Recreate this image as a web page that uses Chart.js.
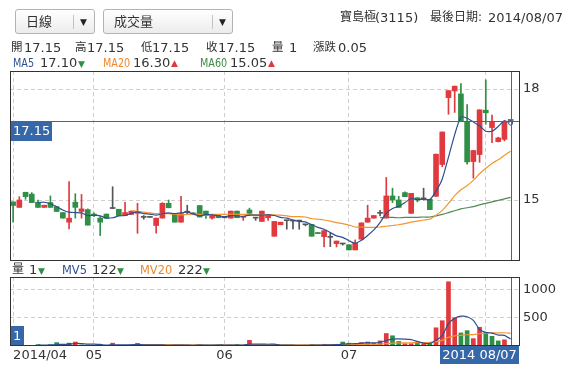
<!DOCTYPE html>
<html><head><meta charset="utf-8">
<script src="https://cdn.jsdelivr.net/npm/chart.js@4.4.1/dist/chart.umd.min.js"></script>
<style>
html,body{margin:0;padding:0;background:#fff;}
body{width:571px;height:376px;position:relative;overflow:hidden;font-family:"DejaVu Sans","Noto Sans CJK TC",sans-serif;font-size:13px;color:#333;}
.abs{position:absolute;white-space:nowrap;line-height:15px;z-index:2;}
.cj{font-size:11.5px;}
.tc{font-size:12px;}
.lbl{font-size:13px;transform:scaleX(0.74);transform-origin:0 50%;}
.lbv{font-size:13px;transform:scaleX(0.88);transform-origin:0 50%;}
.sel{position:absolute;top:9px;height:23px;border:1px solid #b3b3b3;border-radius:3px;background:linear-gradient(#fff,#ececec);z-index:2;}
.sel .t{position:absolute;left:10px;top:4px;line-height:15px;}
.sel .sep{position:absolute;top:5px;width:1px;height:14px;background:#c4c4c4;}
.sel .arr{position:absolute;top:6px;font-size:9px;line-height:12px;color:#222;}
canvas{position:absolute;left:0;z-index:1;}
.up{color:#e0393e;font-size:9px;}
.dn{color:#2f8f46;font-size:9px;}
.b{color:#2e4f8f;} .o{color:#f0882a;} .g{color:#3f8a46;}
</style></head>
<body>
<div class="sel" style="left:15px;width:78px"><span class="t">日線</span><span class="sep" style="left:57px"></span><span class="arr" style="left:64px">▼</span></div>
<div class="sel" style="left:103px;width:128px"><span class="t">成交量</span><span class="sep" style="left:108px"></span><span class="arr" style="left:115px">▼</span></div>
<div class="abs tc" style="left:340px;top:10px">寶島極</div>
<div class="abs" style="left:375px;top:10px">(3115)</div>
<div class="abs tc" style="left:430px;top:10px">最後日期:</div>
<div class="abs" style="left:488px;top:10px">2014/08/07</div>

<div class="abs cj" style="left:11px;top:40px">開</div><div class="abs" style="left:24px;top:40px">17.15</div>
<div class="abs cj" style="left:75px;top:40px">高</div><div class="abs" style="left:87px;top:40px">17.15</div>
<div class="abs cj" style="left:141px;top:40px">低</div><div class="abs" style="left:152px;top:40px">17.15</div>
<div class="abs cj" style="left:206px;top:40px">收</div><div class="abs" style="left:218px;top:40px">17.15</div>
<div class="abs cj" style="left:272px;top:40px">量</div><div class="abs" style="left:289px;top:40px">1</div>
<div class="abs cj" style="left:313px;top:40px">漲跌</div><div class="abs" style="left:338px;top:40px">0.05</div>

<div class="abs lbl b" style="left:13px;top:55px">MA5</div><div class="abs" style="left:40px;top:55px">17.10</div><div class="abs dn" style="left:78px;top:57px">▼</div>
<div class="abs lbl o" style="left:103px;top:55px">MA20</div><div class="abs" style="left:133px;top:55px">16.30</div><div class="abs up" style="left:171px;top:56px">▲</div>
<div class="abs lbl g" style="left:200px;top:55px">MA60</div><div class="abs" style="left:230px;top:55px">15.05</div><div class="abs up" style="left:268px;top:56px">▲</div>

<div class="abs tc" style="left:12px;top:262px">量</div><div class="abs" style="left:29px;top:262px">1</div><div class="abs dn" style="left:38px;top:264px">▼</div>
<div class="abs lbv b" style="left:62px;top:262px">MV5</div><div class="abs" style="left:92px;top:262px">122</div><div class="abs dn" style="left:117px;top:264px">▼</div>
<div class="abs lbv o" style="left:140px;top:262px">MV20</div><div class="abs" style="left:178px;top:262px">222</div><div class="abs dn" style="left:203px;top:264px">▼</div>

<canvas id="price" width="571" height="262" style="top:0;width:571px;height:262px"></canvas>
<canvas id="vol" width="571" height="114" style="top:262px;width:571px;height:114px"></canvas>

<script>
const dates = ['2014/04/14','2014/04/15','2014/04/16','2014/04/17','2014/04/18','2014/04/21','2014/04/22','2014/04/23','2014/04/24','2014/04/25','2014/04/28','2014/04/29','2014/04/30',
'2014/05/02','2014/05/05','2014/05/06','2014/05/07','2014/05/08','2014/05/09','2014/05/12','2014/05/13','2014/05/14','2014/05/15','2014/05/16','2014/05/19','2014/05/20','2014/05/21','2014/05/22','2014/05/23','2014/05/26','2014/05/27','2014/05/28','2014/05/29','2014/05/30',
'2014/06/03','2014/06/04','2014/06/05','2014/06/06','2014/06/09','2014/06/10','2014/06/11','2014/06/12','2014/06/13','2014/06/16','2014/06/17','2014/06/18','2014/06/19','2014/06/20','2014/06/23','2014/06/24','2014/06/25','2014/06/26','2014/06/27','2014/06/30',
'2014/07/01','2014/07/02','2014/07/03','2014/07/04','2014/07/07','2014/07/08','2014/07/09','2014/07/10','2014/07/11','2014/07/14','2014/07/15','2014/07/16','2014/07/17','2014/07/18','2014/07/21','2014/07/22','2014/07/24','2014/07/25','2014/07/28','2014/07/29','2014/07/30','2014/07/31',
'2014/08/01','2014/08/04','2014/08/05','2014/08/06','2014/08/07'];

const open = [14.95,14.80,15.21,15.16,14.94,14.80,14.93,14.82,14.66,14.40,
14.94,14.69,14.74,14.62,14.51,14.62,14.77,14.75,14.58,14.61,
14.64,14.53,14.53,14.31,14.51,14.91,14.60,14.40,14.67,14.62,
14.85,14.70,14.51,14.61,14.52,14.51,14.70,14.53,14.73,14.51,
14.42,14.52,14.02,14.33,14.44,14.43,14.43,14.33,14.34,14.12,
14.01,13.99,13.82,13.81,13.79,13.65,13.94,14.40,14.51,14.64,
14.51,15.11,15.00,15.20,14.64,15.06,15.03,15.02,15.10,15.96,
17.77,17.95,17.87,17.13,16.04,16.23,17.43,16.96,16.58,16.64,
17.15];
const high = [14.95,15.09,15.21,15.20,15.00,14.86,15.11,14.82,14.66,15.50,
15.17,15.15,14.76,14.65,14.55,14.62,15.36,14.75,14.94,14.70,
14.91,14.58,14.53,14.51,14.93,15.00,14.60,15.10,14.86,14.66,
14.85,14.70,14.58,14.61,14.52,14.70,14.70,14.56,14.78,14.51,
14.70,14.61,14.42,14.40,14.44,14.43,14.43,14.33,14.34,14.12,
14.17,14.10,13.89,13.81,13.79,13.92,14.38,14.86,14.58,14.72,
15.61,15.32,15.10,15.22,15.18,15.06,15.32,15.02,16.24,16.84,
17.96,18.08,18.15,17.58,16.34,17.44,18.25,17.30,16.70,17.15,
17.15];
const low = [14.40,14.80,15.02,14.93,14.80,14.80,14.80,14.69,14.51,14.22,
14.51,14.51,14.32,14.55,14.04,14.51,14.77,14.58,14.58,14.61,
14.10,14.48,14.53,14.10,14.51,14.79,14.40,14.40,14.62,14.60,
14.54,14.50,14.48,14.52,14.52,14.51,14.52,14.45,14.58,14.45,
14.42,14.45,14.02,14.33,14.21,14.22,14.21,14.30,14.02,14.09,
13.73,13.74,13.73,13.78,13.65,13.65,13.94,14.40,14.51,14.57,
14.51,14.93,14.80,15.09,14.64,14.95,15.00,14.74,15.10,15.90,
17.32,17.37,17.14,15.97,15.59,16.02,17.05,16.55,16.57,16.60,
17.15];
const close = [14.85,15.00,15.09,14.93,14.80,14.86,14.80,14.69,14.51,14.51,
14.80,14.76,14.32,14.58,14.40,14.51,14.77,14.58,14.66,14.70,
14.69,14.53,14.53,14.51,14.91,14.79,14.40,14.63,14.67,14.62,
14.54,14.58,14.58,14.52,14.52,14.70,14.52,14.56,14.64,14.51,
14.70,14.61,14.42,14.40,14.44,14.43,14.43,14.33,14.02,14.09,
14.17,13.99,13.89,13.81,13.65,13.83,14.38,14.51,14.58,14.64,
15.11,15.00,14.80,15.09,15.18,15.00,15.03,14.74,16.24,16.84,
17.96,18.08,17.14,16.03,16.34,17.44,17.36,17.11,16.68,17.10,
17.15];
const volume = [20,15,10,12,25,10,25,60,15,50,
70,20,15,10,20,10,50,15,10,20,
45,10,10,20,15,10,15,20,10,10,
30,15,10,25,10,15,30,10,100,10,
20,15,25,10,10,10,10,15,30,15,
30,15,30,70,50,40,60,70,50,90,
220,180,80,40,40,60,40,40,320,445,
1130,495,230,270,130,330,240,170,90,109,
1];
const ma5 = [null,null,null,null,14.93,14.94,14.90,14.82,14.73,14.67,
14.66,14.65,14.58,14.59,14.57,14.51,14.52,14.57,14.58,14.64,
14.68,14.63,14.62,14.59,14.63,14.65,14.63,14.65,14.68,14.62,
14.57,14.61,14.60,14.57,14.55,14.58,14.57,14.56,14.59,14.59,
14.59,14.60,14.58,14.53,14.51,14.46,14.42,14.41,14.33,14.26,
14.21,14.12,14.03,13.99,13.90,13.83,13.91,14.04,14.19,14.39,
14.64,14.77,14.83,14.93,15.04,15.01,15.02,15.01,15.24,15.57,
16.16,16.77,17.25,17.21,17.11,17.01,16.86,16.86,16.99,17.14,
17.08];
const ma20 = [null,null,null,null,null,null,null,null,null,null,
null,null,null,null,null,null,null,null,null,14.71,
14.70,14.67,14.65,14.63,14.63,14.63,14.61,14.60,14.61,14.62,
14.61,14.60,14.61,14.61,14.61,14.62,14.61,14.61,14.61,14.60,
14.60,14.60,14.60,14.59,14.57,14.55,14.55,14.54,14.50,14.48,
14.46,14.43,14.39,14.36,14.32,14.27,14.27,14.26,14.26,14.27,
14.29,14.31,14.33,14.36,14.40,14.43,14.46,14.48,14.59,14.72,
14.91,15.12,15.28,15.39,15.53,15.71,15.86,15.99,16.09,16.21,
16.32];
const ma60 = [null,null,null,null,null,null,null,null,null,null,
null,null,null,null,null,null,null,null,null,null,
null,null,null,null,null,null,null,null,null,null,
null,null,null,null,null,null,null,null,null,null,
null,null,null,null,null,null,null,null,null,null,
null,null,null,null,null,null,null,null,null,14.52,
14.53,14.53,14.52,14.53,14.53,14.53,14.54,14.54,14.57,14.61,
14.66,14.71,14.76,14.79,14.82,14.87,14.91,14.95,14.99,15.03,
15.07];
const mv5 = [null,null,null,null,16.4,14.4,16.4,26.4,27,32,
44,43,34,33,27,15,21,21,21,21,
28,20,19,21,20,13,14,16,14,13,
17,17,15,18,18,15,18,18,33,33,
34,31,34,16,16,14,13,11,15,16,
20,21,24,32,39,41,50,58,54,62,
98,122,124,122,112,80,52,44,100,181,
395,486,524,514,451,291,240,228,192,188,
122];
const mv20 = [null,null,null,null,null,null,null,null,null,null,
null,null,null,null,null,null,null,null,null,24.1,
25.35,25.1,25.1,25.5,25,25,24.5,22.5,22.25,20.25,
18.25,18,17.75,18.5,18,18.25,17.25,17,21.5,21,
19.75,20,20.75,20.25,20,20,19.75,19.5,20.5,20.75,
20.75,20.75,21.75,24,26,27.25,28.75,31.75,29.25,33.25,
43.25,51.5,54.25,55.75,57.25,59.75,61.25,62.5,77,98.5,
153.5,177.5,187.5,197.5,201.5,216,225,230,232,232.95,
222];
const tickIdx = [0,13,34,54,76];
const tickText = ['2014/04','05','06','07','08'];
const priceTicks = [15,18];
const volTicks = [500,1000];
const lastLabel = '2014 08/07';

const RED='#e0393e', GREEN='#2f8f46', GRAY='#555555', BLUE='#2e4f8f', ORANGE='#f39530', DGREEN='#4e8b50', CROSS='#3c67a6', BOX='#3667a8', GRID='#cfcfcf';
const labels = dates.concat(['']);
const last = close.length - 1;
const candleColor = close.map((c,i)=> c>open[i]?RED:(c<open[i]?GREEN:GRAY));
const volColor = close.map((c,i)=> i===0?candleColor[0]:(c>close[i-1]?RED:(c<close[i-1]?GREEN:GRAY)));

Chart.defaults.font.family = '"DejaVu Sans", sans-serif';
Chart.defaults.font.size = 13;
Chart.defaults.color = '#333';

function xAxis(show){
  return {
    type:'category', offset:true,
    grid:{offset:false, drawTicks:false, lineWidth:1, color:c=>tickIdx.includes(c.index)?GRID:'rgba(0,0,0,0)'},
    border:{display:false, dash:[4,3]},
    ticks:{display:show, autoSkip:false, maxRotation:0, minRotation:0, align:'inner', padding:2,
      callback:(v,i)=>{const k=tickIdx.indexOf(i); return k>=0?tickText[k]:'';}},
    afterFit:s=>{s.height = show?30:0; s.paddingLeft=0; s.paddingRight=0;}
  };
}
function yAxis(min,max,arr){
  return {
    position:'right', min:min, max:max,
    grid:{drawTicks:false, color:GRID, lineWidth:1},
    border:{display:false, dash:[4,3]},
    ticks:{padding:3, callback:v=>String(v)},
    afterBuildTicks:s=>{s.ticks = arr.map(v=>({value:v}));},
    afterFit:s=>{s.width = 51; s.paddingTop=0; s.paddingBottom=0;}
  };
}
function frame(chart){
  const a = chart.chartArea, ctx = chart.ctx;
  ctx.save(); ctx.strokeStyle='#333'; ctx.lineWidth=1;
  ctx.strokeRect(a.left+0.5, a.top+0.5, a.right-a.left-1, a.bottom-a.top-1);
  ctx.restore();
}
function vline(chart){
  const a = chart.chartArea, ctx = chart.ctx;
  const x = Math.round(chart.scales.x.getPixelForValue(last))+0.5;
  ctx.save(); ctx.strokeStyle=CROSS; ctx.lineWidth=1;
  ctx.beginPath(); ctx.moveTo(x,a.top); ctx.lineTo(x,a.bottom); ctx.stroke(); ctx.restore();
}

const pricePlugin = {
  id:'priceCross',
  afterDatasetsDraw(chart){
    const a = chart.chartArea, ctx = chart.ctx;
    vline(chart);
    const y = Math.round(chart.scales.y.getPixelForValue(close[last]))+0.5;
    ctx.save(); ctx.strokeStyle=CROSS; ctx.lineWidth=1;
    ctx.beginPath(); ctx.moveTo(a.left,y); ctx.lineTo(a.right,y); ctx.stroke();
    const top = Math.round(y-0.5);
    ctx.fillStyle=BOX; ctx.fillRect(a.left, top, 42, 20);
    ctx.fillStyle='#fff'; ctx.font='13px "DejaVu Sans"'; ctx.textBaseline='middle'; ctx.textAlign='left';
    ctx.fillText(close[last].toFixed(2), a.left+3, top+10.5);
    ctx.restore();
  },
  afterDraw(chart){ frame(chart); }
};
const volPlugin = {
  id:'volCross',
  afterDatasetsDraw(chart){
    const a = chart.chartArea, ctx = chart.ctx;
    vline(chart);
    let top = Math.round(chart.scales.y.getPixelForValue(volume[last]));
    if (top + 20 > a.bottom) top = a.bottom - 20;
    ctx.save();
    ctx.fillStyle=BOX; ctx.fillRect(a.left, top, 14, 20);
    ctx.fillStyle='#fff'; ctx.font='13px "DejaVu Sans"'; ctx.textBaseline='middle'; ctx.textAlign='left';
    ctx.fillText(String(volume[last]), a.left+3, top+10.5);
    ctx.restore();
  },
  afterDraw(chart){
    const a = chart.chartArea, ctx = chart.ctx;
    frame(chart);
    ctx.save(); ctx.font='13px "DejaVu Sans"';
    const w = Math.ceil(ctx.measureText(lastLabel).width)+4;
    const right = a.right-1;
    ctx.fillStyle=BOX; ctx.fillRect(right-w, a.bottom, w, 18);
    ctx.fillStyle='#fff'; ctx.textBaseline='middle'; ctx.textAlign='center';
    ctx.fillText(lastLabel, right-w/2, a.bottom+9.5);
    ctx.restore();
  }
};

const common = {responsive:false, animation:false, events:[],
  plugins:{legend:{display:false}, tooltip:{enabled:false}}};

new Chart(document.getElementById('price'), {
  type:'bar',
  data:{labels:labels, datasets:[
    {type:'bar', data:low.map((l,i)=>[l,high[i]]), backgroundColor:candleColor, barThickness:1, grouped:false, order:5},
    {type:'bar', data:open.map((o,i)=>[o,close[i]]), backgroundColor:candleColor, barThickness:5, grouped:false, minBarLength:1, order:4},
    {type:'line', data:ma60, borderColor:DGREEN, borderWidth:1.2, pointRadius:0, tension:0.2, order:2},
    {type:'line', data:ma20, borderColor:ORANGE, borderWidth:1.2, pointRadius:0, tension:0.2, order:1},
    {type:'line', data:ma5, borderColor:BLUE, borderWidth:1.2, tension:0.2, order:0,
      pointRadius:c=>c.dataIndex===last?2:0, pointHoverRadius:0, pointBackgroundColor:'#fff', pointBorderColor:BLUE, pointBorderWidth:1}
  ]},
  options:Object.assign({}, common, {
    layout:{autoPadding:false, padding:{top:71,left:10,right:0,bottom:1}},
    scales:{x:xAxis(false), y:yAxis(13.35,18.49,priceTicks)}
  }),
  plugins:[pricePlugin]
});

new Chart(document.getElementById('vol'), {
  type:'bar',
  data:{labels:labels, datasets:[
    {type:'bar', data:volume, backgroundColor:volColor, barThickness:4, grouped:false, order:3},
    {type:'line', data:mv20, borderColor:ORANGE, borderWidth:1.2, pointRadius:0, tension:0.2, order:1},
    {type:'line', data:mv5, borderColor:BLUE, borderWidth:1.2, pointRadius:0, tension:0.2, order:0}
  ]},
  options:Object.assign({}, common, {
    layout:{autoPadding:false, padding:{top:15,left:10,right:0,bottom:0}},
    scales:{x:xAxis(true), y:yAxis(0,1214,volTicks)}
  }),
  plugins:[volPlugin]
});
</script>
</body></html>
